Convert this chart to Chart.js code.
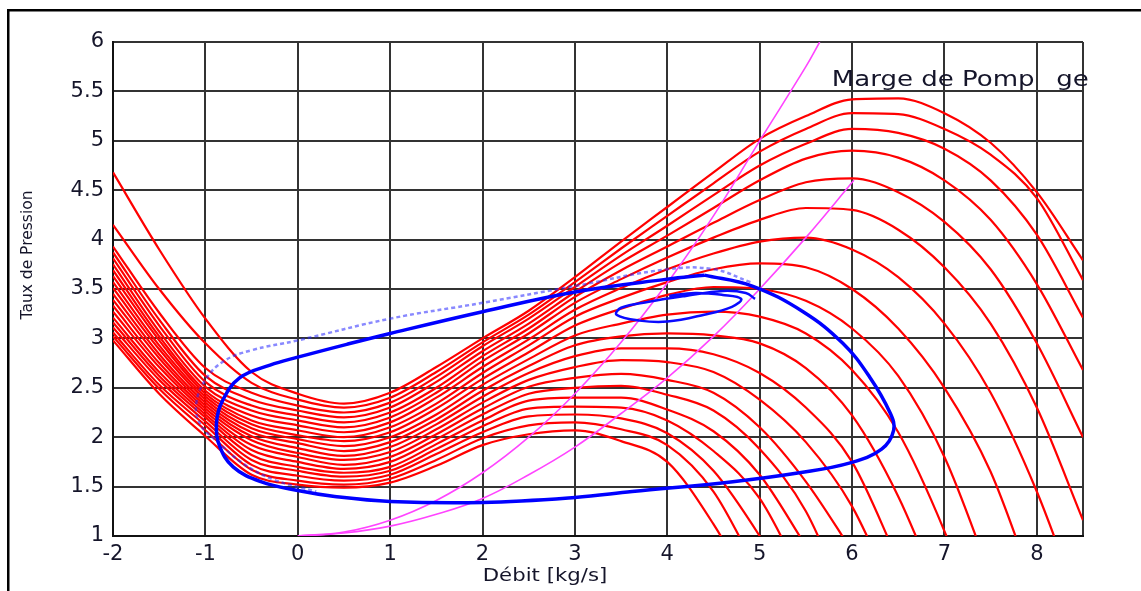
<!DOCTYPE html>
<html>
<head>
<meta charset="utf-8">
<script src="https://cdn.jsdelivr.net/npm/chart.js@4.4.1/dist/chart.umd.min.js"></script>
<style>
html, body { margin: 0; padding: 0; background: #fff; overflow: hidden; }
canvas { display: block; }
</style>
</head>
<body>
<canvas id="pompage" width="1141" height="591"></canvas>
<script>
// débit grid shared by all speed lines
const debit = [-2, -1.5, -1, -0.5, 0, 0.5, 1, 1.5, 2, 2.5, 3, 3.5, 4, 4.5, 5, 5.5, 6, 6.5, 7, 7.5, 8, 8.5];

// tick values (8.5 only closes the frame, no label)
const xTicks = [-2, -1, 0, 1, 2, 3, 4, 5, 6, 7, 8, 8.5];
const yTicks = [1, 1.5, 2, 2.5, 3, 3.5, 4, 4.5, 5, 5.5, 6];

// iso-vitesse curves, top to bottom
const iso1 = [4.68, 3.90, 3.20, 2.66, 2.44, 2.34, 2.45, 2.71, 3.00, 3.28, 3.62, 3.98, 4.33, 4.68, 5.02, 5.25, 5.42, 5.43, 5.28, 4.98, 4.48, 3.79];
const iso2 = [4.15, 3.50, 2.95, 2.55, 2.38, 2.30, 2.40, 2.66, 2.96, 3.24, 3.57, 3.91, 4.24, 4.57, 4.89, 5.12, 5.28, 5.27, 5.12, 4.86, 4.42, 3.59];
const iso3 = [3.93, 3.26, 2.70, 2.45, 2.32, 2.25, 2.35, 2.61, 2.92, 3.20, 3.52, 3.84, 4.14, 4.45, 4.75, 4.97, 5.12, 5.08, 4.92, 4.60, 4.05, 3.21];
const iso4 = [3.87, 3.19, 2.62, 2.38, 2.27, 2.20, 2.30, 2.56, 2.87, 3.15, 3.47, 3.77, 4.04, 4.32, 4.60, 4.82, 4.90, 4.83, 4.60, 4.20, 3.55, 2.68];
const iso5 = [3.81, 3.13, 2.56, 2.32, 2.22, 2.15, 2.25, 2.50, 2.82, 3.10, 3.42, 3.69, 3.93, 4.17, 4.40, 4.58, 4.62, 4.48, 4.18, 3.70, 2.95, 2.00];
const iso6 = [3.75, 3.07, 2.51, 2.27, 2.17, 2.10, 2.20, 2.45, 2.77, 3.05, 3.36, 3.60, 3.82, 4.02, 4.20, 4.32, 4.30, 4.10, 3.72, 3.15, 2.30, 1.16];
const iso7 = [3.69, 3.02, 2.47, 2.22, 2.12, 2.05, 2.15, 2.40, 2.71, 2.99, 3.29, 3.51, 3.70, 3.86, 3.98, 4.02, 3.90, 3.62, 3.15, 2.45, 1.45, 0.20];
const iso8 = [3.63, 2.98, 2.44, 2.17, 2.07, 2.00, 2.10, 2.34, 2.65, 2.93, 3.22, 3.41, 3.57, 3.70, 3.76, 3.72, 3.50, 3.10, 2.50, 1.65, 0.40];
const iso9 = [3.57, 2.93, 2.41, 2.13, 2.02, 1.96, 2.05, 2.29, 2.59, 2.86, 3.13, 3.30, 3.44, 3.52, 3.50, 3.38, 3.10, 2.62, 1.80, 0.60];
const iso10 = [3.51, 2.89, 2.38, 2.09, 1.98, 1.91, 2.00, 2.23, 2.53, 2.79, 3.03, 3.15, 3.24, 3.27, 3.22, 3.05, 2.68, 2.05, 1.05, -0.20];
const iso11 = [3.45, 2.84, 2.35, 2.05, 1.94, 1.86, 1.95, 2.18, 2.47, 2.72, 2.93, 3.02, 3.05, 3.03, 2.95, 2.70, 2.22, 1.40, 0.30];
const iso12 = [3.39, 2.80, 2.32, 2.01, 1.89, 1.81, 1.90, 2.13, 2.41, 2.65, 2.82, 2.90, 2.90, 2.84, 2.65, 2.30, 1.75, 0.75];
const iso13 = [3.33, 2.75, 2.29, 1.97, 1.84, 1.77, 1.85, 2.08, 2.35, 2.58, 2.71, 2.78, 2.76, 2.66, 2.38, 1.95, 1.30, 0.30];
const iso14 = [3.27, 2.71, 2.26, 1.92, 1.80, 1.72, 1.80, 2.03, 2.29, 2.51, 2.60, 2.64, 2.58, 2.45, 2.10, 1.55, 0.85];
const iso15 = [3.21, 2.66, 2.23, 1.87, 1.75, 1.68, 1.75, 1.98, 2.23, 2.44, 2.50, 2.52, 2.43, 2.27, 1.88, 1.25, 0.20];
const iso16 = [3.16, 2.62, 2.20, 1.82, 1.70, 1.64, 1.70, 1.93, 2.17, 2.37, 2.40, 2.40, 2.28, 2.06, 1.62, 0.90];
const iso17 = [3.11, 2.58, 2.16, 1.77, 1.66, 1.60, 1.66, 1.88, 2.11, 2.29, 2.31, 2.30, 2.17, 1.86, 1.38, 0.50];
const iso18 = [3.06, 2.53, 2.12, 1.72, 1.61, 1.56, 1.62, 1.83, 2.05, 2.21, 2.23, 2.19, 2.04, 1.66, 1.00, 0.20];
const iso19 = [3.02, 2.49, 2.07, 1.67, 1.56, 1.52, 1.58, 1.77, 1.99, 2.12, 2.15, 2.08, 1.92, 1.45, 0.60];
const iso20 = [2.98, 2.44, 2.01, 1.62, 1.52, 1.49, 1.54, 1.71, 1.92, 2.03, 2.07, 1.96, 1.75, 1.12, 0.30];

// surge limit cycle (blue)
const cycleX = [4.40, 4.92, 5.47, 5.90, 6.19, 6.41, 6.45, 6.32, 5.98, 5.43, 4.71, 3.62, 3.00, 2.00, 1.00, 0.40, 0.00, -0.40, -0.70, -0.85, -0.88, -0.82, -0.63, -0.30, 0.00, 0.53, 1.00, 2.00, 3.00, 4.00, 4.40];
const cycleY = [3.64, 3.53, 3.27, 2.95, 2.61, 2.25, 2.07, 1.88, 1.74, 1.64, 1.55, 1.45, 1.39, 1.34, 1.35, 1.40, 1.46, 1.55, 1.70, 1.92, 2.14, 2.36, 2.60, 2.73, 2.81, 2.94, 3.05, 3.27, 3.47, 3.60, 3.64];

// first transient loop (faded blue)
const transX = [4.90, 4.50, 4.00, 3.00, 2.00, 1.00, 0.00, -0.50, -0.80, -1.00, -1.10, -1.05, -0.90, -0.60, -0.26, 0.20];
const transY = [3.57, 3.70, 3.70, 3.53, 3.36, 3.20, 2.98, 2.88, 2.77, 2.58, 2.33, 2.12, 1.98, 1.74, 1.57, 1.45];

// small spiral around the unstable point
const spiralX = [4.02, 4.30, 4.60, 4.80, 4.70, 4.40, 4.00, 3.70, 3.45, 3.50, 3.80, 4.20, 4.60, 4.85, 4.95];
const spiralY = [3.43, 3.46, 3.44, 3.40, 3.32, 3.24, 3.17, 3.18, 3.24, 3.31, 3.37, 3.43, 3.48, 3.46, 3.40];

// magenta lines
const margeAX = [0, 0.5, 1, 1.5, 2, 2.5, 3, 3.5, 4, 4.5, 5, 5.5, 5.65];
const margeAY = [1.00, 1.04, 1.16, 1.36, 1.64, 2.00, 2.44, 2.96, 3.56, 4.24, 5.00, 5.75, 6.00];
const margeBX = [0, 0.5, 1, 1.5, 2, 2.5, 3, 3.5, 4, 4.5, 5, 5.5, 6.02];
const margeBY = [1.00, 1.03, 1.10, 1.22, 1.38, 1.62, 1.90, 2.24, 2.60, 3.02, 3.50, 4.02, 4.60];

const isoLines = [iso1, iso2, iso3, iso4, iso5, iso6, iso7, iso8, iso9, iso10,
  iso11, iso12, iso13, iso14, iso15, iso16, iso17, iso18, iso19, iso20];

function pairs(xs, ys) {
  return xs.map((x, i) => ({ x: x, y: ys[i] }));
}

const datasets = [];

datasets.push({
  data: pairs(cycleX, cycleY),
  borderColor: '#0000ff', borderWidth: 3.5, tension: 0.4, order: 1
});
datasets.push({
  data: pairs(spiralX, spiralY),
  borderColor: '#0a0aff', borderWidth: 2.5, tension: 0.4, order: 1
});
datasets.push({
  data: pairs(transX, transY),
  borderColor: 'rgba(40,40,255,0.55)', borderWidth: 2.5, borderDash: [4, 3], tension: 0.4, order: 1
});
datasets.push({
  data: pairs(margeAX, margeAY),
  borderColor: '#ff44ff', borderWidth: 1.6, tension: 0.4, order: 2
});
datasets.push({
  data: pairs(margeBX, margeBY),
  borderColor: '#ff44ff', borderWidth: 1.6, tension: 0.4, order: 2
});

isoLines.forEach(ys => {
  datasets.push({
    data: ys.map((y, i) => ({ x: debit[i], y: y })),
    borderColor: '#ff0000', borderWidth: 2.2,
    cubicInterpolationMode: 'monotone', order: 3
  });
});

function stretchText(c, txt, x, y, sx, align) {
  c.save();
  c.translate(x, y);
  c.scale(sx, 1);
  c.textAlign = align;
  c.fillText(txt, 0, 0);
  c.restore();
}

const decor = {
  id: 'decor',
  beforeDraw(chart) {
    const c = chart.ctx;
    c.save();
    c.fillStyle = '#000';
    c.fillRect(7, 9, 2.5, 700);
    c.fillRect(7, 9, 1300, 2.5);
    c.restore();
  },
  afterDraw(chart) {
    const c = chart.ctx;
    const xs = chart.scales.x;
    const ys = chart.scales.y;
    c.save();
    c.fillStyle = '#15152a';

    c.font = '15.5px "DejaVu Sans"';
    c.textBaseline = 'middle';
    c.save();
    c.translate(28, 255);
    c.rotate(-Math.PI / 2);
    c.textAlign = 'center';
    c.fillText('Taux de Pression', 0, 0);
    c.restore();

    c.font = '18px "DejaVu Sans"';
    stretchText(c, 'Débit [kg/s]', 545, 576, 1.18, 'center');

    c.font = '21px "DejaVu Sans"';
    c.textBaseline = 'alphabetic';
    stretchText(c, 'Marge de Pomp', xs.getPixelForValue(5.78), ys.getPixelForValue(5.555), 1.24, 'left');
    stretchText(c, 'ge', xs.getPixelForValue(8.21), ys.getPixelForValue(5.555), 1.24, 'left');
    c.restore();
  }
};

new Chart(document.getElementById('pompage'), {
  type: 'line',
  data: { datasets: datasets },
  options: {
    responsive: false,
    animation: false,
    devicePixelRatio: 1,
    layout: { padding: { top: 42, right: 58, left: 0, bottom: 0 } },
    elements: { point: { radius: 0 } },
    plugins: { legend: { display: false }, tooltip: { enabled: false } },
    scales: {
      x: {
        type: 'linear', min: -2, max: 8.5,
        afterFit: s => { s.height = 55; },
        afterBuildTicks: s => { s.ticks = xTicks.map(v => ({ value: v })); },
        ticks: {
          padding: 6, color: '#15152a',
          font: { family: 'DejaVu Sans', size: 21 },
          maxRotation: 0, autoSkip: false,
          callback: v => (v === 8.5 ? '' : String(v))
        },
        grid: { color: '#333', lineWidth: 2, drawTicks: false },
        border: { color: '#111', width: 2 }
      },
      y: {
        min: 1, max: 6,
        afterFit: s => { s.width = 113; },
        afterBuildTicks: s => { s.ticks = yTicks.map(v => ({ value: v })); },
        ticks: {
          padding: 9, color: '#15152a', autoSkip: false,
          font: { family: 'DejaVu Sans', size: 21 },
          callback: v => String(v)
        },
        grid: { color: '#333', lineWidth: 2, drawTicks: false },
        border: { color: '#111', width: 2 }
      }
    }
  },
  plugins: [decor]
});
</script>
</body>
</html>
